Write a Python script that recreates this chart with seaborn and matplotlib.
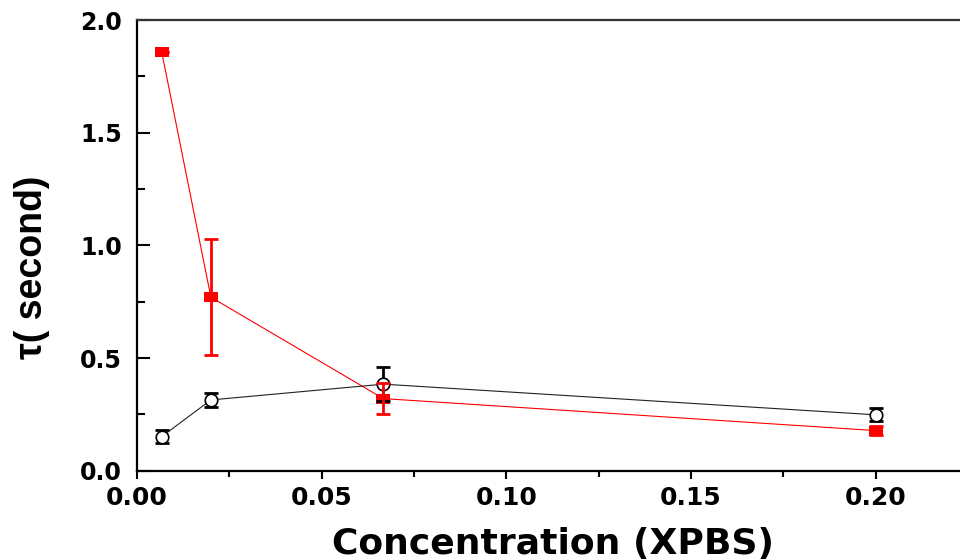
import matplotlib
matplotlib.use("Agg")
import matplotlib.pyplot as plt
from matplotlib import font_manager
from matplotlib.ticker import MultipleLocator
import pandas as pd
import seaborn as sns

# Relaxation time versus concentration, two series with error bars
conc = [0.00667, 0.02, 0.0667, 0.2]
tau_red = [1.86, 0.77, 0.32, 0.178]
err_red = [0.0, 0.257, 0.068, 0.02]
tau_black = [0.151, 0.314, 0.384, 0.248]
err_black = [0.028, 0.032, 0.076, 0.029]

x_ticks = [0.00, 0.05, 0.10, 0.15, 0.20]
y_ticks = [0.0, 0.5, 1.0, 1.5, 2.0]

sns.set_style("ticks")
plt.rcParams["font.family"] = ["DejaVu Sans"]
plt.rcParams["text.color"] = "black"
plt.rcParams["axes.labelcolor"] = "black"
plt.rcParams["xtick.color"] = "black"
plt.rcParams["ytick.color"] = "black"


def first_family(names):
    installed = {f.name for f in font_manager.fontManager.ttflist}
    for n in names:
        if n in installed:
            return n
    return "DejaVu Sans"


narrow = first_family(["Liberation Sans Narrow", "Liberation Sans", "Arial"])

df = pd.DataFrame({
    "conc": conc * 2,
    "tau": tau_red + tau_black,
    "series": ["red"] * 4 + ["black"] * 4,
})

fig = plt.figure(figsize=(9.6, 5.6), dpi=100)
ax = fig.add_axes([137 / 960, 1 - 470.7 / 560, 831 / 960, 450.7 / 560])

# wide rectangle marker for the red series
rect = [(-1.0, -0.69), (1.0, -0.69), (1.0, 0.69), (-1.0, 0.69), (-1.0, -0.69)]

red_df = df[df.series == "red"]
black_df = df[df.series == "black"]

sns.lineplot(data=red_df, x="conc", y="tau", ax=ax, color="#ff0000",
             linewidth=0.8, marker=rect, markersize=9.5,
             markerfacecolor="#ff0000", markeredgecolor="#ff0000",
             markeredgewidth=0, zorder=2, legend=False)
ax.errorbar(conc, tau_black, yerr=err_black, fmt="none", ecolor="black",
            elinewidth=2.0, capsize=4.8, capthick=2.0, zorder=3)
sns.lineplot(data=black_df, x="conc", y="tau", ax=ax, color="#222222",
             linewidth=0.8, marker="o", markersize=9,
             markerfacecolor="white", markeredgecolor="black",
             markeredgewidth=1.2, zorder=4, legend=False)
ax.errorbar(conc, tau_red, yerr=err_red, fmt="none", ecolor="#ff0000",
            elinewidth=2.0, capsize=4.8, capthick=2.0, zorder=5)

ax.set_xlim(0, 0.225)
ax.set_ylim(0, 2.0)
ax.set_xticks(x_ticks)
ax.set_yticks(y_ticks)
ax.set_xticklabels([f"{v:.2f}" for v in x_ticks])
ax.set_yticklabels([f"{v:.1f}" for v in y_ticks])
ax.xaxis.set_minor_locator(MultipleLocator(0.025))
ax.yaxis.set_minor_locator(MultipleLocator(0.25))

ax.tick_params(axis="x", which="major", direction="out", length=6,
               width=1.5, pad=5, labelsize=18)
ax.tick_params(axis="x", which="minor", direction="out", length=4.5,
               width=1.5)
ax.tick_params(axis="y", which="major", direction="in", length=9,
               width=1.5, pad=11, labelsize=17)
ax.tick_params(axis="y", which="minor", direction="in", length=5.5,
               width=1.5)
for lab in ax.get_xticklabels() + ax.get_yticklabels():
    lab.set_fontweight("bold")

for side in ["left", "bottom", "top", "right"]:
    ax.spines[side].set_visible(True)
    ax.spines[side].set_linewidth(1.6)
    ax.spines[side].set_color("black")
ax.spines["top"].set_color("#333333")

ax.set_xlabel("Concentration (XPBS)", fontsize=26, fontweight="bold")
ax.set_ylabel("τ( second)", fontsize=27, fontweight="bold",
              family=[narrow, "DejaVu Sans"])
ax.xaxis.set_label_coords(0.5, -0.125)
ax.yaxis.set_label_coords(-0.105, 0.452)

fig.savefig("out.png", dpi=100)
